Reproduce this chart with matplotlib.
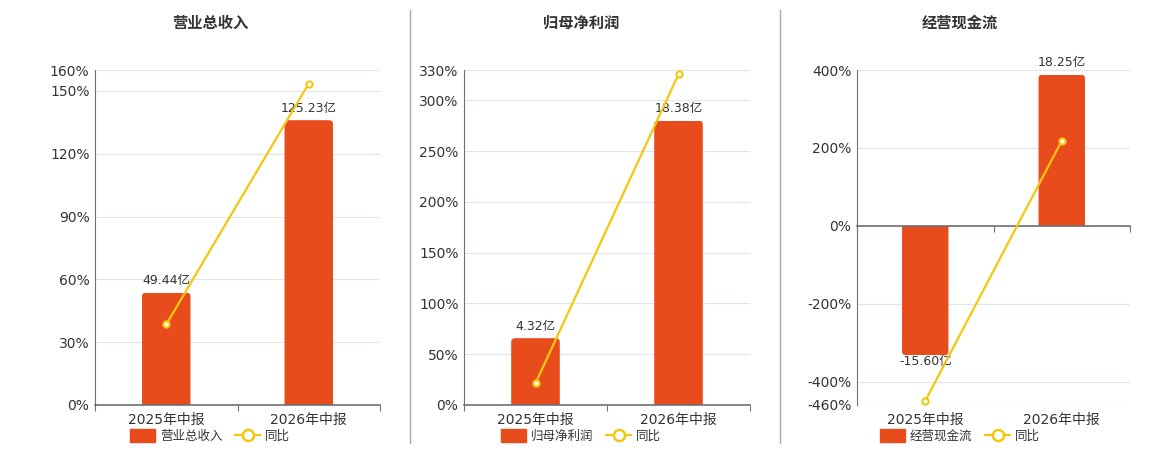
import matplotlib
matplotlib.use("Agg")
import matplotlib.pyplot as plt
from matplotlib.patches import Patch, FancyBboxPatch, Rectangle
from matplotlib.lines import Line2D
from matplotlib.ticker import FixedLocator, NullFormatter

plt.rcParams['font.family'] = ['DejaVu Sans', 'Noto Sans CJK SC']

# ---------------- data ----------------
categories = ['2025年中报', '2026年中报']

titles = ['营业总收入', '归母净利润', '经营现金流']

revenue = [49.44, 125.23]
revenue_yoy = [38.5, 153.5]

net_profit = [4.32, 18.38]
net_profit_yoy = [21.4, 325.8]

cash_flow = [-15.60, 18.25]
cash_flow_yoy = [-449.7, 218.4]

bar_labels = [['49.44亿', '125.23亿'], ['4.32亿', '18.38亿'], ['-15.60亿', '18.25亿']]

yticks_list = [[0, 30, 60, 90, 120, 150, 160],
               [0, 50, 100, 150, 200, 250, 300, 330],
               [-460, -400, -200, 0, 200, 400]]
ylims = [(0, 160), (0, 330), (-460, 400)]
bar_lims = [(0, 147.3), (0, 21.65), (-21.6, 18.8)]

bars_data = [revenue, net_profit, cash_flow]
yoy_data = [revenue_yoy, net_profit_yoy, cash_flow_yoy]

# ---------------- style ----------------
BAR = '#E84B1C'
LINE = '#F2C80F'
GRID = '#E0E6F1'
AXIS = '#6E7079'
TXT = '#333333'
BAR_W = 0.34
RADIUS_PX = 4.0

W, H = 1160, 450
fig = plt.figure(figsize=(W / 100, H / 100), dpi=100)

# axes boxes in pixels: left, right, top, bottom
boxes = [(95, 380, 70, 405), (464, 750, 70, 405), (857, 1130, 70, 405)]
centers = [210, 581, 960]

for i in range(3):
    l, r, t, b = boxes[i]
    rect = [l / W, 1 - b / H, (r - l) / W, (b - t) / H]
    ax = fig.add_axes(rect)
    axb = ax.twinx()
    axl = ax.twinx()
    ax.set_zorder(0)
    axb.set_zorder(1)
    axl.set_zorder(2)
    for a in (axb, axl):
        a.patch.set_visible(False)

    # bottom layer: grid + x labels
    ax.set_xlim(-0.5, 1.5)
    ax.set_ylim(*ylims[i])
    ax.set_yticks(yticks_list[i])
    ax.yaxis.set_major_formatter(NullFormatter())
    ax.tick_params(axis='y', length=0)
    ax.grid(axis='y', color=GRID, linewidth=0.8)
    ax.set_xticks([0, 1])
    ax.set_xticklabels(categories, fontsize=10, color=TXT)
    ax.xaxis.set_minor_locator(FixedLocator([-0.5, 0.5, 1.5]))
    ax.tick_params(axis='x', which='both', length=0, pad=6)
    for s in ax.spines.values():
        s.set_visible(False)

    # bar layer
    axb.set_ylim(*bar_lims[i])
    axb.set_yticks([])
    for s in axb.spines.values():
        s.set_visible(False)
    p0, p1 = axb.transData.transform([(0, 0), (1, 1)])
    xu_per_px = 1.0 / (p1[0] - p0[0])
    yu_per_px = 1.0 / (p1[1] - p0[1])
    aspect = yu_per_px / xu_per_px
    ext = 2 * RADIUS_PX * yu_per_px  # base extension hidden by clipping
    for xc, v, lab in zip([0, 1], bars_data[i], bar_labels[i]):
        if v >= 0:
            y0, hgt = -ext, v + ext
        else:
            y0, hgt = v, -v + ext
        patch = FancyBboxPatch((xc - BAR_W / 2, y0), BAR_W, hgt,
                               boxstyle=f"round,pad=0,rounding_size={RADIUS_PX * xu_per_px}",
                               mutation_aspect=aspect, facecolor=BAR, edgecolor='none',
                               zorder=2)
        axb.add_patch(patch)
        clip = Rectangle((xc - BAR_W, min(0, v)), 2 * BAR_W, abs(v),
                         transform=axb.transData)
        patch.set_clip_path(clip)
        if v >= 0:
            axb.annotate(lab, (xc, v), xytext=(0, 4), textcoords='offset points',
                         ha='center', va='bottom', fontsize=9, color=TXT)
        else:
            axb.annotate(lab, (xc, v), xytext=(0, 0), textcoords='offset points',
                         ha='center', va='top', fontsize=9, color=TXT)

    # line layer: axes, left labels
    axl.set_ylim(*ylims[i])
    axl.plot([0, 1], yoy_data[i], color=LINE, linewidth=1.6, marker='o',
             markersize=4.5, markerfacecolor='white', markeredgecolor=LINE,
             markeredgewidth=1.5, zorder=3)
    axl.yaxis.tick_left()
    axl.set_yticks(yticks_list[i])
    axl.set_yticklabels([f'{v}%' for v in yticks_list[i]], fontsize=10, color=TXT)
    axl.tick_params(axis='y', length=0, pad=4)
    axl.xaxis.set_visible(True)
    axl.tick_params(axis='x', which='major', length=0, labelbottom=False)
    axl.tick_params(axis='x', which='minor', length=4, width=0.8, color=AXIS)
    for name in ('top', 'right'):
        axl.spines[name].set_visible(False)
    axl.spines['left'].set_color(AXIS)
    axl.spines['left'].set_linewidth(0.8)
    axl.spines['bottom'].set_color(AXIS)
    axl.spines['bottom'].set_linewidth(1.2)
    axl.spines['bottom'].set_position(('data', 0))

    # title
    fig.text(centers[i] / W, 1 - 23 / H, titles[i], ha='center', va='center',
             fontsize=11, fontweight='bold', color=TXT)

    # legend
    handles = [Patch(facecolor=BAR, edgecolor=BAR, joinstyle='round'),
               Line2D([], [], color=LINE, linewidth=1.6, marker='o', markersize=8,
                      markerfacecolor='white', markeredgecolor=LINE, markeredgewidth=1.8)]
    fig.legend(handles, [titles[i], '同比'], loc='center',
               bbox_to_anchor=(centers[i] / W, 1 - 436 / H), ncol=2, frameon=False,
               fontsize=9, handlelength=2.0, handleheight=1.15, columnspacing=1.0,
               handletextpad=0.4, labelcolor=TXT)

# separators
for x in (410, 780):
    fig.add_artist(Line2D([x / W, x / W], [1 - 443 / H, 1 - 10 / H], color='#AAAAAA',
                          linewidth=1.0))

fig.savefig('out.png', dpi=100, facecolor='white')
